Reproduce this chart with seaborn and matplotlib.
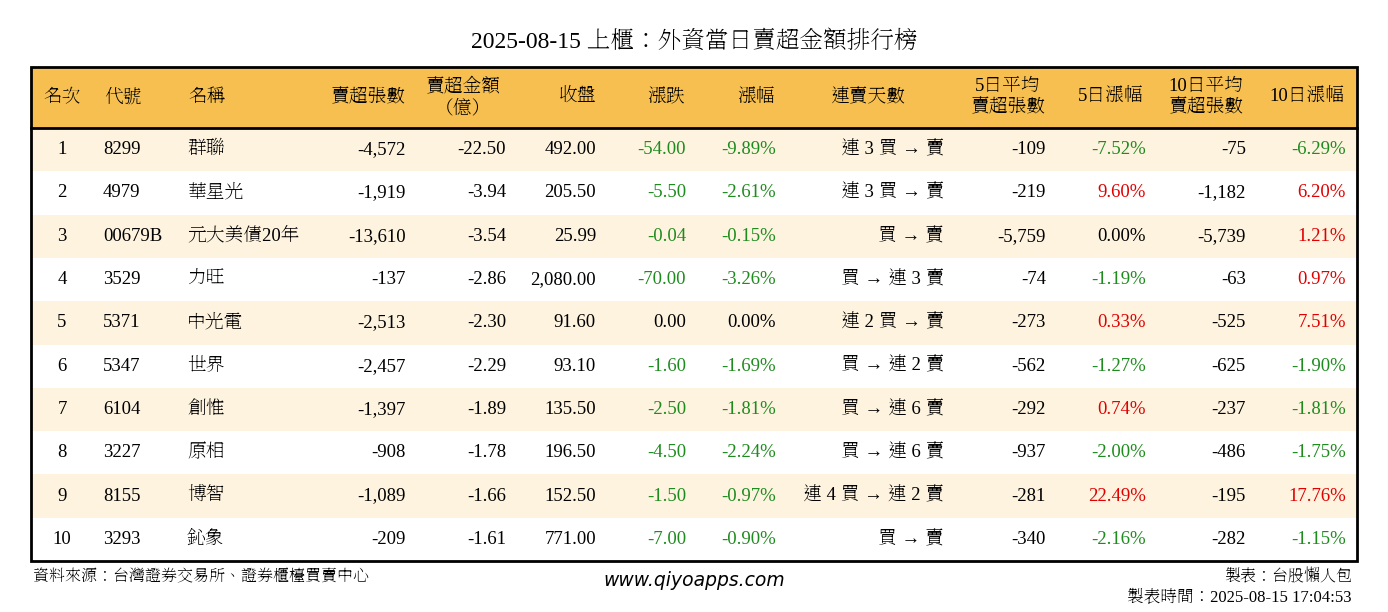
import matplotlib
matplotlib.use("Agg")
import matplotlib.pyplot as plt
import seaborn as sns
import numpy as np
from matplotlib.colors import ListedColormap

title = "2025-08-15 上櫃：外資當日賣超金額排行榜"
ranks = ["1","2","3","4","5","6","7","8","9","10"]
codes = ["8299","4979","00679B","3529","5371","5347","6104","3227","8155","3293"]
names = ["群聯","華星光","元大美債20年","力旺","中光電","世界","創惟","原相","博智","鈊象"]
sell_vol = [-4572,-1919,-13610,-137,-2513,-2457,-1397,-908,-1089,-209]
sell_amt = [-22.50,-3.94,-3.54,-2.86,-2.30,-2.29,-1.89,-1.78,-1.66,-1.61]
close = [492.00,205.50,25.99,2080.00,91.60,93.10,135.50,196.50,152.50,771.00]
change = [-54.00,-5.50,-0.04,-70.00,0.00,-1.60,-2.50,-4.50,-1.50,-7.00]
pct = [-9.89,-2.61,-0.15,-3.26,0.00,-1.69,-1.81,-2.24,-0.97,-0.90]
streak = ["連 3 買 → 賣","連 3 買 → 賣","買 → 賣","買 → 連 3 賣","連 2 買 → 賣","買 → 連 2 賣",
          "買 → 連 6 賣","買 → 連 6 賣","連 4 買 → 連 2 賣","買 → 賣"]
avg5 = [-109,-219,-5759,-74,-273,-562,-292,-937,-281,-340]
pct5 = [-7.52,9.60,0.00,-1.19,0.33,-1.27,0.74,-2.00,22.49,-2.16]
avg10 = [-75,-1182,-5739,-63,-525,-625,-237,-486,-195,-282]
pct10 = [-6.29,6.20,1.21,0.97,7.51,-1.90,-1.81,-1.75,17.76,-1.15]
headers = ["名次","代號","名稱","賣超張數","賣超金額\n（億）","收盤","漲跌","漲幅","連賣天數",
           "5日平均\n賣超張數","5日漲幅","10日平均\n賣超張數","10日漲幅"]

W, H = 1388, 612
FONT = ["Liberation Serif", "Noto Serif TC", "Noto Sans CJK JP"]
plt.rcParams["font.family"] = FONT
fig = plt.figure(figsize=(W/100, H/100), dpi=100)

L, R, T, HB, B = 31, 1357, 67, 128, 561
axh = fig.add_axes([L/W, 1-B/H, (R-L)/W, (B-HB)/H])
par = np.array([[i % 2] for i in range(10)])
sns.heatmap(par, ax=axh, cmap=ListedColormap(["#FDF3DF", "#FFFFFF"]), cbar=False,
            xticklabels=False, yticklabels=False, vmin=0, vmax=1)
axh.set_axis_off()

ax = fig.add_axes([0, 0, 1, 1])
ax.set_xlim(0, W); ax.set_ylim(H, 0); ax.set_axis_off()
ax.add_patch(plt.Rectangle((L, T), R-L, HB-T, color="#F7BF4F", zorder=1))
ax.add_patch(plt.Rectangle((L, T), R-L, B-T, fill=False, ec="black", lw=2, zorder=3))
ax.plot([L, R], [HB, HB], color="black", lw=2, zorder=3)

ax.text(W/2, 42, title, ha="center", va="center", fontsize=17)

GREEN, RED = "#1E8B1E", "#E00000"
def col(v):
    return GREEN if v < 0 else (RED if v > 0 else "black")

cols = [(62,"center"),(103,"left"),(187,"left"),(406,"right"),(506,"right"),(596,"right"),
        (686,"right"),(776,"right"),(944,"right"),(1046,"right"),(1146,"right"),(1246,"right"),(1346,"right")]
hdr_x = [62,123,207,368,463,577,666,756,868,1008,1111,1206,1307]
hy = (T+HB)/2
for x, h in zip(hdr_x, headers):
    ax.text(x, hy, h, ha="center", va="center", fontsize=13.5, linespacing=1.3, zorder=4)

rh = (B-HB)/10
for i in range(10):
    y = HB + rh*(i+0.5)
    vals = [(ranks[i],"black"),(codes[i],"black"),(names[i],"black"),
            (f"{sell_vol[i]:,}","black"),(f"{sell_amt[i]:.2f}","black"),(f"{close[i]:,.2f}","black"),
            (f"{change[i]:.2f}",col(change[i])),(f"{pct[i]:.2f}%",col(pct[i])),(streak[i],"black"),
            (f"{avg5[i]:,}","black"),(f"{pct5[i]:.2f}%",col(pct5[i])),
            (f"{avg10[i]:,}","black"),(f"{pct10[i]:.2f}%",col(pct10[i]))]
    for (x, ha), (s, c) in zip(cols, vals):
        ax.text(x, y, s, ha=ha, va="center", fontsize=13.5, color=c, zorder=4)

ax.text(33, 577, "資料來源：台灣證券交易所、證券櫃檯買賣中心", ha="left", va="center", fontsize=11.5)
ax.text(694, 580, "www.qiyoapps.com", ha="center", va="center", fontsize=13.5, style="italic", family="DejaVu Sans")
ax.text(1352, 577, "製表：台股懶人包", ha="right", va="center", fontsize=11.5)
ax.text(1352, 598, "製表時間：2025-08-15 17:04:53", ha="right", va="center", fontsize=12)

fig.savefig("out.png", dpi=100)
